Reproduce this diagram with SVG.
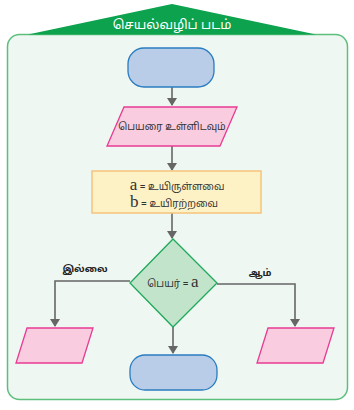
<svg xmlns="http://www.w3.org/2000/svg" width="354" height="410" viewBox="0 0 354 410">
<style>
.term{fill:#b9cde9;stroke:#2a7cc0;stroke-width:1.3}
.io{fill:#f9cce0;stroke:#e83b93;stroke-width:1.3}
.proc{fill:#fdf2c6;stroke:#f6c37c;stroke-width:1.5}
.dec{fill:#c2e4cb;stroke:#1fa95a;stroke-width:1.3}
.con{fill:none;stroke:#666;stroke-width:1.6}
.t{font-family:"Noto Sans Tamil","Noto Sans","Lohit Tamil","Liberation Sans",sans-serif;font-size:10px;fill:#333}
.s{font-family:"Liberation Serif",serif;font-size:17px;fill:#333}
.lbl{font-size:9.5px;font-weight:bold;fill:#222}
</style>
<defs>
<marker id="ah" markerWidth="8" markerHeight="10" refX="7" refY="5" orient="auto" markerUnits="userSpaceOnUse">
<path d="M0,0 L8,5 L0,10 Z" fill="#666"/>
</marker>
</defs>
<g id="frame">
<rect x="7.5" y="34.5" width="340" height="365" rx="12" fill="#eef7f1" stroke="#5cbf7e" stroke-width="1.5"/>
<path d="M28,34.5 L172,4 L316,34.5 Z" fill="#0ca24e"/>
<text x="172" y="29" text-anchor="middle" class="t" style="font-size:13px;fill:#fff">செயல்வழிப் படம்</text>
</g>
<g id="connectors">
<line class="con" x1="172" y1="87" x2="172" y2="105" marker-end="url(#ah)"/>
<line class="con" x1="172" y1="146" x2="172" y2="170" marker-end="url(#ah)"/>
<line class="con" x1="172" y1="213" x2="172" y2="238" marker-end="url(#ah)"/>
<polyline class="con" points="130,281 55,281 55,326" marker-end="url(#ah)"/>
<polyline class="con" points="217,284 295,284 295,326" marker-end="url(#ah)"/>
<line class="con" x1="173" y1="327" x2="173" y2="353" marker-end="url(#ah)"/>
<text x="85" y="272" text-anchor="middle" class="t lbl">இல்லை</text>
<text x="260" y="276" text-anchor="middle" class="t lbl">ஆம்</text>
</g>
<g id="start">
<rect class="term" x="128" y="48" width="86" height="39" rx="16"/>
</g>
<g id="input">
<polygon class="io" points="124,107 237,107 220,146 107,146"/>
<text x="172" y="130" text-anchor="middle" class="t">பெயரை உள்ளிடவும்</text>
</g>
<g id="process">
<rect class="proc" x="92" y="171" width="169" height="42"/>
<text x="177" y="190" text-anchor="middle"><tspan class="s">a</tspan><tspan class="t"> = உயிருள்ளவை</tspan></text>
<text x="174" y="207" text-anchor="middle"><tspan class="s">b</tspan><tspan class="t"> = உயிரற்றவை</tspan></text>
</g>
<g id="decision">
<polygon class="dec" points="173,239 217,283 173,327 130,283"/>
<text x="173" y="287" text-anchor="middle"><tspan class="t">பெயர் = </tspan><tspan class="s">a</tspan></text>
</g>
<g id="no-output">
<polygon class="io" points="27,328 93,328 82,363 16,363"/>
</g>
<g id="yes-output">
<polygon class="io" points="268,328 334,328 323,363 257,363"/>
</g>
<g id="end">
<rect class="term" x="130" y="355" width="87" height="35" rx="15"/>
</g>
</svg>
